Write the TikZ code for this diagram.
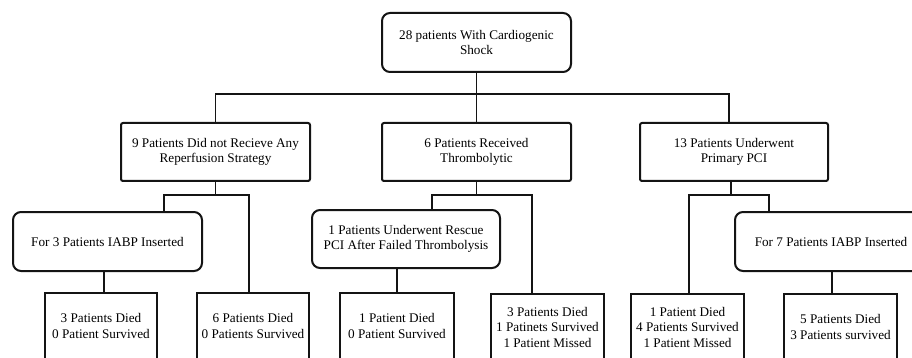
\documentclass[tikz,border=0pt]{standalone}
\usepackage{fontspec}
\setmainfont{Liberation Serif}
\begin{document}
\begin{tikzpicture}[x=1pt,y=-1pt,
  box/.style={draw=black!92, line width=2pt, fill=white, align=center, inner sep=0pt,
    font=\fontsize{13.2}{15.5}\selectfont, text=black},
  rbox/.style={box, rounded corners=8pt},
  sbox/.style={box, rounded corners=2pt},
  leaf/.style={box, line width=2.6pt, minimum width=112pt, minimum height=66pt},
  conn/.style={draw=black!92, line width=1.5pt}]
\clip (0,0) rectangle (912,358);
\fill[white] (0,0) rectangle (912,358);

% level 0
\node[rbox, minimum width=189pt, minimum height=59pt] (top) at (476.5,42.5)
  {\raisebox{-4pt}{\shortstack{28 patients With Cardiogenic\\Shock}}};

% level 1
\node[sbox, minimum width=189pt, minimum height=58pt] (a) at (215.5,152)
  {9 Patients Did not Recieve Any\\Reperfusion Strategy};
\node[sbox, minimum width=189pt, minimum height=58pt] (b) at (476.5,152)
  {6 Patients Received\\Thrombolytic};
\node[sbox, minimum width=188pt, minimum height=58pt] (c) at (734,152)
  {13 Patients Underwent\\Primary PCI};

% level 2
\node[rbox, minimum width=189pt, minimum height=59pt] (ia) at (107.5,241.5)
  {For 3 Patients IABP Inserted};
\node[rbox, minimum width=188pt, minimum height=58pt] (rb) at (406,239)
  {1 Patients Underwent Rescue\\PCI After Failed Thrombolysis};
\node[rbox, minimum width=192pt, minimum height=59pt] (ic) at (831,241.5)
  {For 7 Patients IABP Inserted};

% leaves
\node[leaf] (l1) at (101,326) {3 Patients Died\\0 Patient Survived};
\node[leaf] (l2) at (253,326) {6 Patients Died\\0 Patients Survived};
\node[leaf, minimum width=114pt] (l3) at (397,326) {1 Patient Died\\0 Patient Survived};
\node[leaf, minimum width=113pt] (l4) at (547.5,327) {3 Patients Died\\1 Patinets Survived\\1 Patient Missed};
\node[leaf, minimum width=113pt] (l5) at (687.5,327) {1 Patient Died\\4 Patients Survived\\1 Patient Missed};
\node[leaf, minimum width=113pt] (l6) at (840.5,327) {5 Patients Died\\3 Patients survived};

% connectors level 0 -> 1
\coordinate (f0) at (476.5,94);
\draw[conn] (top.south) -- (b.north);
\draw[conn] (a.north) -- (a.north |- f0) -- (729,94) -- (729,0 |- c.north);

% left subtree
\coordinate (fa) at (215.5,195);
\coordinate (fal) at (164,195);
\coordinate (far) at (249,195);
\draw[conn] (a.south) -- (fa);
\draw[conn] (fal |- ia.north) -- (fal) -- (far) -- (far |- l2.north);
\draw[conn] (ia.south -| 104,0) -- (104,0 |- l1.north);

% middle subtree
\coordinate (fb) at (476.5,195);
\coordinate (fbl) at (432,195);
\coordinate (fbr) at (532,195);
\draw[conn] (b.south) -- (fb);
\draw[conn] (fbl |- rb.north) -- (fbl) -- (fbr) -- (fbr |- l4.north);
\draw[conn] (rb.south -| l3.north) -- (l3.north);

% right subtree
\coordinate (fc) at (731,195);
\coordinate (fcl) at (689,195);
\coordinate (fcr) at (769,195);
\draw[conn] (c.south -| fc) -- (fc);
\draw[conn] (fcl |- l5.north) -- (fcl) -- (fcr) -- (fcr |- ic.north);
\draw[conn] (ic.south -| 832,0) -- (832,0 |- l6.north);
\end{tikzpicture}
\end{document}
